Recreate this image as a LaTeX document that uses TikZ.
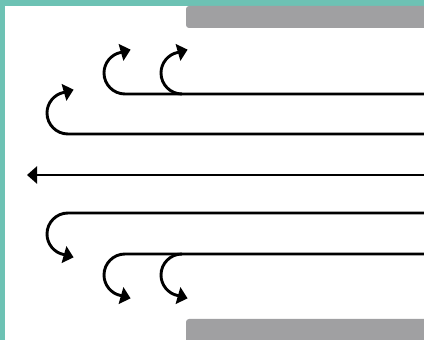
\documentclass[tikz,border=0pt]{standalone}
\usepackage{xcolor}
\usetikzlibrary{arrows.meta}
\definecolor{edgeTeal}{HTML}{6DC2B4}
\definecolor{barGray}{HTML}{A0A0A2}

\begin{document}
\begin{tikzpicture}[
  x=1pt,y=1pt,
  arr/.style={-{Triangle[length=10pt,width=17pt]},line width=2.9pt},
  bar/.style={fill=barGray,rounded corners=3pt}
]
\useasboundingbox (0,0) rectangle (424,340);
% frame and bars
\fill[edgeTeal] (0,0) rectangle (5,340);
\fill[edgeTeal] (0,334) rectangle (424,340);
\fill[bar] (186,312) rectangle (434,334);
\fill[bar] (186,-6) rectangle (434,21);
% entry points on the right edge
\coordinate (in1) at (424,246);
\coordinate (in2) at (424,206);
\coordinate (in3) at (424,165);
\coordinate (in4) at (424,127);
\coordinate (in5) at (424,86);
% turning points
\coordinate (up1) at (125,246);
\coordinate (up2) at (182,246);
\coordinate (up3) at (68,206);
\coordinate (out) at (27,165);
\coordinate (dn3) at (68,127);
\coordinate (dn1) at (125,86);
\coordinate (dn2) at (182,86);
% arrows
\draw[arr] (in1) -- (up1) arc[start angle=270,end angle=101,radius=21] -- ++(16:10);
\draw[arr] (up2) arc[start angle=270,end angle=101,radius=21] -- ++(16:10);
\draw[arr] (in2) -- (up3) arc[start angle=270,end angle=101,radius=21] -- ++(16:10);
\draw[arr] (in3) -- (out);
\draw[arr] (in4) -- (dn3) arc[start angle=90,end angle=259,radius=21] -- ++(-16:10);
\draw[arr] (in5) -- (dn1) arc[start angle=90,end angle=259,radius=21] -- ++(-16:10);
\draw[arr] (dn2) arc[start angle=90,end angle=259,radius=21] -- ++(-16:10);
\end{tikzpicture}
\end{document}
